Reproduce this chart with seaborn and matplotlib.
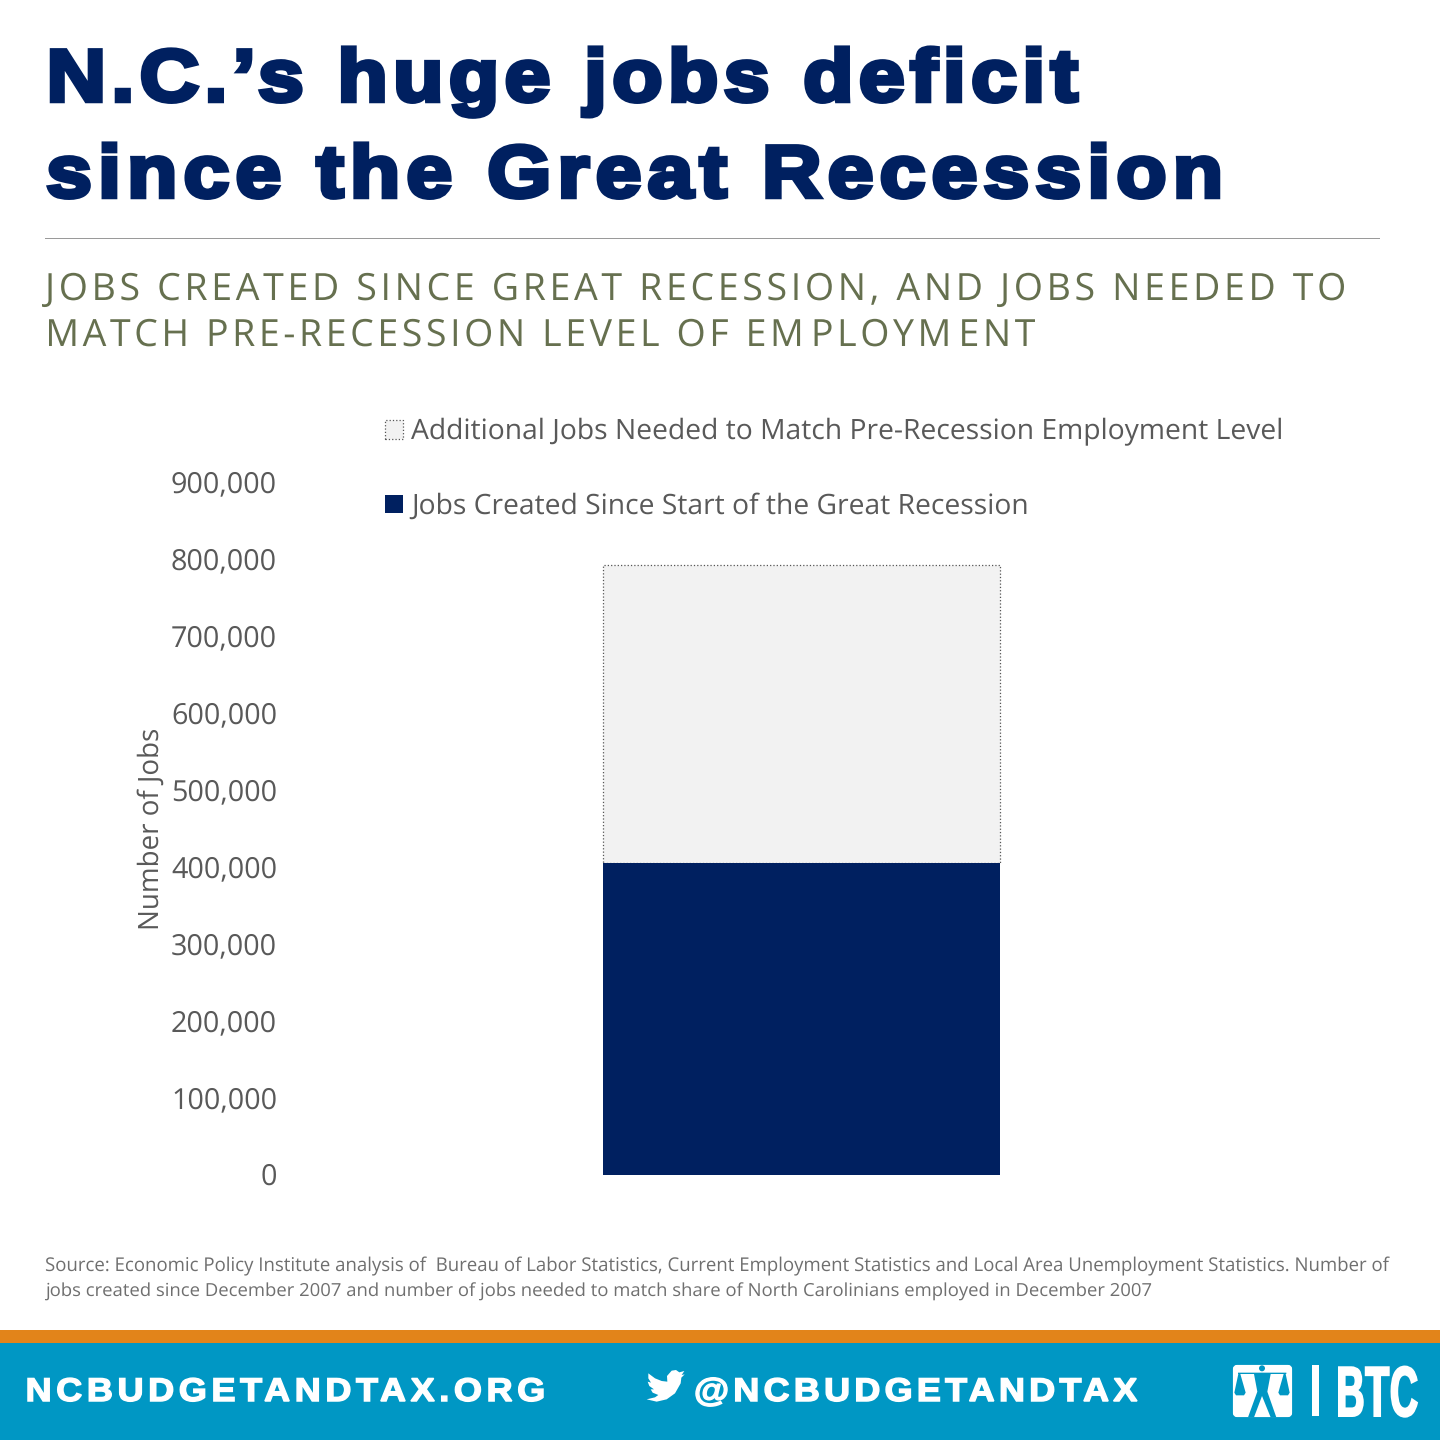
import numpy as np
import matplotlib
matplotlib.use("Agg")
import matplotlib.pyplot as plt
import seaborn as sns
from matplotlib.patches import Rectangle, Polygon, Circle, FancyBboxPatch
from matplotlib.path import Path
from matplotlib.patheffects import AbstractPathEffect
from matplotlib.ticker import FuncFormatter
from matplotlib.transforms import IdentityTransform, ScaledTranslation

sns.set_theme(style="white")
plt.rcParams['font.family'] = ['Open Sans', 'DejaVu Sans']
plt.rcParams['text.hinting'] = 'none'

category = [""]
jobs_created = [405000]
jobs_needed = [387000]
label_needed = "Additional Jobs Needed to Match Pre-Recession Employment Level"
label_created = "Jobs Created Since Start of the Great Recession"
y_ticks = [0, 100000, 200000, 300000, 400000, 500000, 600000, 700000, 800000, 900000]
title_lines = ["N.C.’s huge jobs deficit", "since the Great Recession"]
subtitle_lines = ["JOBS CREATED SINCE GREAT RECESSION, AND JOBS NEEDED TO",
                  "MATCH PRE-RECESSION LEVEL OF EMPLOYMENT"]
source_lines = ["Source: Economic Policy Institute analysis of  Bureau of Labor Statistics, Current Employment Statistics and Local Area Unemployment Statistics. Number of",
                "jobs created since December 2007 and number of jobs needed to match share of North Carolinians employed in December 2007"]

W, H = 1440, 1440
NAVY, PALE, GREY, OLIVE, TEAL = "#002060", "#F2F2F2", "#595959", "#66704F", "#0097C4"
fig = plt.figure(figsize=(14.4, 14.4), dpi=100, facecolor="white")


def fx(x): return x / W
def fy(y): return 1 - y / H


class Tracked(AbstractPathEffect):
    """Draws a text's outline with letter spacing so that it spans x0..x1 pixels."""

    def __init__(self, x0, x1, sx=1.0, sy=1.0, stroke=0.0):
        super().__init__()
        self.x0, self.x1, self.sx, self.sy, self.stroke = x0, x1, sx, sy, stroke

    def draw_path(self, renderer, gc, tpath, affine, rgbFace=None):
        v = np.array(affine.transform(tpath.vertices), float)
        c = np.array(tpath.codes)
        ox, oy = affine.transform([[0, 0]])[0]
        v[:, 0] = ox + (v[:, 0] - ox) * self.sx
        v[:, 1] = oy + (v[:, 1] - oy) * self.sy
        starts = list(np.where(c == Path.MOVETO)[0]) + [len(c)]
        real = c != Path.CLOSEPOLY
        yr = np.ptp(v[real, 1])
        groups = []
        for a, b in zip(starts[:-1], starts[1:]):
            xs = v[a:b][real[a:b], 0]
            lo, hi = xs.min(), xs.max()
            if groups:
                g = groups[-1]
                ov = min(hi, g[1]) - max(lo, g[0])
                if ov > 0.5 * min(hi - lo, g[1] - g[0]):
                    g[0], g[1] = min(lo, g[0]), max(hi, g[1])
                    g[3] = b
                    continue
            groups.append([lo, hi, a, b])
        slots, shift = 0, [0]
        for g0, g1 in zip(groups[:-1], groups[1:]):
            slots += 2 if g1[0] - g0[1] > 0.25 * yr else 1
            shift.append(slots)
        left, right = groups[0][0], groups[-1][1]
        track = ((self.x1 - self.x0) - (right - left)) / max(slots, 1)
        for g, k in zip(groups, shift):
            v[g[2]:g[3], 0] += k * track - left + self.x0
        gc0 = renderer.new_gc()
        gc0.copy_properties(gc)
        if self.stroke:
            gc0.set_linewidth(self.stroke * 72 / fig.dpi)
            gc0.set_foreground(rgbFace)
            gc0.set_joinstyle("miter")
        renderer.draw_path(gc0, Path(v, c), IdentityTransform(), rgbFace)
        gc0.restore()


def rect(x0, y0, x1, y1, color, z=0):
    fig.add_artist(Rectangle((fx(x0), fy(y1)), (x1 - x0) / W, (y1 - y0) / H,
                             transform=fig.transFigure, color=color, lw=0, zorder=z))


def tracked_text(s, x0, x1, base, color, family, size, weight="normal", sx=1.0, sy=1.0, stroke=0.0, anchor_right=False):
    t = fig.text(fx(x1 if anchor_right else x0), fy(base), s, color=color, family=family, weight=weight,
                 fontsize=size, ha="right" if anchor_right else "left", va="baseline", zorder=8)
    t.set_path_effects([Tracked(x0, x1, sx, sy, stroke)])
    return t


def fit_text(s, x0, x1, base, color, family):
    t = fig.text(fx(x0), fy(base), s, color=color, family=family,
                 fontsize=13, ha="left", va="baseline", zorder=5)
    r = fig.canvas.get_renderer()
    for _ in range(4):
        t.set_fontsize(t.get_fontsize() * (x1 - x0) / t.get_window_extent(r).width)
    return t


# axes: y=0 at pixel 1175, 900,000 at pixel 482
ax = fig.add_axes([fx(302), fy(1175), 999 / W, (1175 - 482) / H], facecolor="none")
sns.barplot(x=category, y=jobs_needed, bottom=jobs_created, color=PALE, width=0.397, saturation=1, ax=ax,
            edgecolor="#555555", linewidth=0.9, linestyle=":", label=label_needed)
sns.barplot(x=category, y=jobs_created, color=NAVY, width=0.397, saturation=1, ax=ax,
            linewidth=0, label=label_created)
ax.set_ylim(0, 900000)
ax.set_yticks(y_ticks)
ax.yaxis.set_major_formatter(FuncFormatter(lambda v, _: f"{int(v):,}"))
ax.tick_params(axis="y", length=0, pad=18, labelsize=20.7, labelcolor=GREY)
ax.tick_params(axis="x", length=0, labelbottom=False)
up = ScaledTranslation(0, 1 / 100, fig.dpi_scale_trans)
for lbl in ax.get_yticklabels():
    lbl.set_transform(lbl.get_transform() + up)
sns.despine(ax=ax, left=True, bottom=True, top=True, right=True)
ax.grid(False)
ax.set_ylabel("Number of Jobs", fontsize=20, color=GREY)
ax.yaxis.set_label_coords((165 - 302) / 999, (1175 - 829) / 693)

h, l = ax.get_legend_handles_labels()
ax.legend(h, l, loc="upper left", bbox_to_anchor=(fx(385), fy(418)),
          bbox_transform=fig.transFigure, frameon=False, fontsize=20.3,
          labelcolor=GREY, handlelength=0.64, handleheight=0.64, handletextpad=0.28,
          labelspacing=1.65, borderpad=0, borderaxespad=0)

# title block
for s, x0, x1, b in zip(title_lines, (52, 49), (1077, 1218), (101, 197)):
    tracked_text(s, x0, x1, b, NAVY, "Liberation Sans", 53, "bold", sx=1.12, stroke=4.5)
rect(45, 238, 1380, 239, "#9A9A9A")
for s, x0, x1, b in zip(subtitle_lines, (42, 49), (1344, 1035), (300, 346)):
    tracked_text(s, x0, x1, b, OLIVE, "Open Sans", 27)

for s, x1, b in zip(source_lines, (1383, 1155), (1271, 1297)):
    fit_text(s, 45, x1, b, "#6F6F6F", "Open Sans")

# footer
rect(0, 1330, W, 1343, "#E2841A", 1)
rect(0, 1343, W, H, TEAL, 1)
tracked_text("NCBUDGETANDTAX.ORG", 28, 543, 1401, "white", "Liberation Sans", 23.6, "bold", sx=1.1, stroke=1.5)
tracked_text("@NCBUDGETANDTAX", 696, 1137, 1401, "white", "Liberation Sans", 23.6, "bold", sx=1.1, stroke=1.5)


def px_poly(pts, color, z=6):
    fig.add_artist(Polygon([(fx(x), fy(y)) for x, y in pts], closed=True,
                           transform=fig.transFigure, color=color, lw=0, zorder=z))


def zoomed(pts, ox, oy):
    return [(ox + x / 3, oy + y / 3) for x, y in pts]


# bird icon
bird = [(95, 32), (108, 30), (118, 37), (133, 33), (125, 45), (134, 43), (124, 53), (122, 70), (105, 100),
        (80, 118), (50, 125), (20, 118), (45, 112), (55, 105), (38, 98), (32, 88), (42, 88), (28, 78),
        (23, 65), (33, 68), (25, 55), (25, 40), (45, 55), (65, 63), (82, 65), (81, 48)]
px_poly(zoomed(bird, 640, 1360), "white")

# logo
fig.add_artist(FancyBboxPatch((fx(1235), fy(1415)), 55 / W, 48 / H, boxstyle="round,pad=0,rounding_size=0.0014",
                              mutation_scale=1, transform=fig.transFigure, fc="white", ec="white", lw=3, zorder=6))
person = [(30, 38), (175, 38), (175, 42), (128, 42), (118, 95), (145, 172), (128, 172), (102, 108), (78, 172), (60, 172),
          (88, 95), (78, 42), (30, 42)]
px_poly(zoomed(person, 1228, 1360), TEAL, 7)
px_poly(zoomed([(31, 42), (37, 42), (53, 98), (48, 106), (24, 106), (19, 98)], 1228, 1360), TEAL, 7)
px_poly(zoomed([(173, 42), (167, 42), (151, 98), (156, 106), (180, 106), (185, 98)], 1228, 1360), TEAL, 7)
fig.add_artist(Circle((fx(1262), fy(1368.3)), 3 / W, transform=fig.transFigure, color=TEAL, lw=0, zorder=7))
rect(1312, 1365, 1319, 1416, "white", 6)
tracked_text("BTC", 1339, 1417, 1416, "white", "Liberation Sans", 51, "bold", sx=0.55, stroke=2, anchor_right=True)

fig.savefig("out.png", dpi=100, facecolor="white")
